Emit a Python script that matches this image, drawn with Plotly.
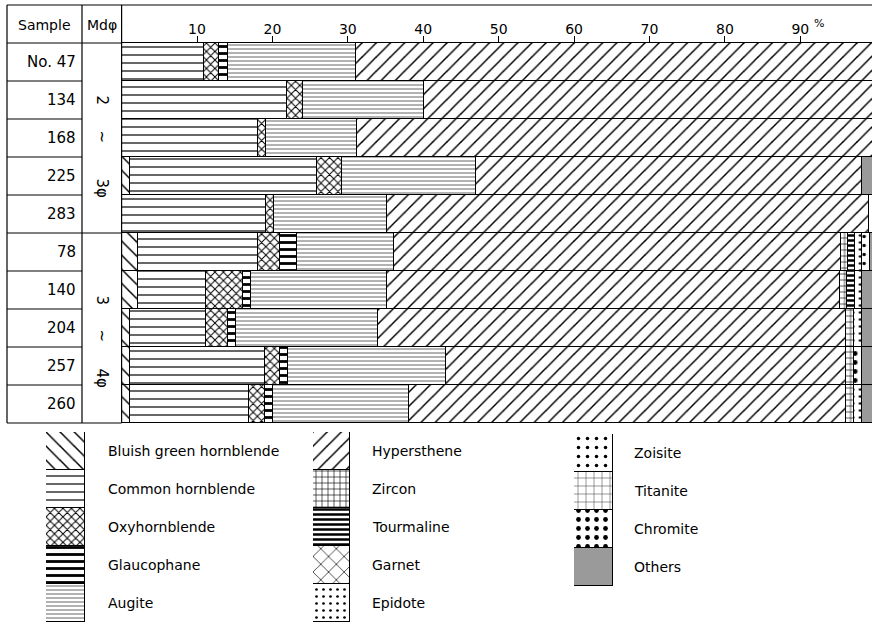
import plotly.graph_objects as go

# ---------------- data ----------------
samples = ["No. 47", "134", "168", "225", "283", "78", "140", "204", "257", "260"]
tick_vals = [10, 20, 30, 40, 50, 60, 70, 80, 90]
tick_text = ["10", "20", "30", "40", "50", "60", "70", "80", "90"]
groups = ["2", "~", "3φ"], ["3", "~", "4φ"]

bluish = [None, None, None, 1.0, None, 2.1, 2.1, 1.1, 1.1, 1.1]
common = [10.9, 21.9, 18.0, 24.9, 19.1, 15.9, 9.0, 10.0, 17.8, 15.8]
oxy = [2.0, 2.1, 1.1, 3.3, 1.0, 3.0, 5.0, 2.9, 2.1, 2.0]
glauc = [1.1, None, None, None, None, 2.2, 1.0, 1.1, 1.0, 1.1]
augite = [17.0, 16.0, 12.1, 17.8, 15.1, 12.9, 18.1, 18.9, 21.0, 18.1]
hyper = [69.0, 60.0, 68.8, 51.1, 63.8, 59.2, 60.0, 62.0, 53.0, 57.9]
zircon = [None, None, None, None, None, 0.9, 0.9, 1.1, 1.1, 1.1]
tourm = [None, None, None, None, None, 1.0, 1.1, None, None, None]
garnet = [None] * 10
epidote = [None, None, None, None, 1.0, 0.9, 0.9, 1.0, None, 1.0]
zoisite = [None, None, None, None, None, 1.1, None, None, None, None]
titanite = [None] * 10
chromite = [None, None, None, None, None, None, None, None, 1.0, None]
others = [None, None, None, 1.9, None, 0.8, 1.9, 1.9, 1.9, 1.9]

minerals = ["Bluish green hornblende", "Common hornblende", "Oxyhornblende", "Glaucophane",
            "Augite", "Hypersthene", "Zircon", "Tourmaline", "Garnet", "Epidote",
            "Zoisite", "Titanite", "Chromite", "Others"]
values = [bluish, common, oxy, glauc, augite, hyper, zircon, tourm, garnet, epidote,
          zoisite, titanite, chromite, others]
legend_cols = [minerals[0:5], minerals[5:10], minerals[10:14]]

# ---------------- styles ----------------
styles = {
    "Bluish green hornblende": dict(shape="\\", size=10, solidity=0.15),
    "Common hornblende": dict(shape="-", size=8, solidity=0.15),
    "Oxyhornblende": dict(shape="x", size=6, solidity=0.3),
    "Glaucophane": dict(shape="-", size=7, solidity=0.4),
    "Augite": dict(shape="-", size=4, solidity=0.3, fgopacity=0.5),
    "Hypersthene": dict(shape="/", size=10, solidity=0.15),
    "Zircon": dict(shape="+", size=6, solidity=0.2),
    "Tourmaline": dict(shape="-", size=5, solidity=0.5),
    "Garnet": dict(shape="x", size=11, solidity=0.12),
    "Epidote": dict(shape=".", size=7, solidity=0.12),
    "Zoisite": dict(shape=".", size=9, solidity=0.12),
    "Titanite": dict(shape="+", size=8, solidity=0.12, fgopacity=0.8),
    "Chromite": dict(shape=".", size=9, solidity=0.22),
    "Others": None,
}
FONT = "DejaVu Sans"
W, H = 872, 624


def px(x):
    return x / W


def py(y):
    return 1 - y / H


def marker_for(name):
    st = dict(styles[name]) if styles[name] else None
    if st is None:
        return dict(color="#9a9a9a", line=dict(color="black", width=1))
    op = st.pop("fgopacity", 1)
    return dict(color="white", line=dict(color="black", width=1),
                pattern=dict(fillmode="overlay", fgcolor="black", fgopacity=op,
                             bgcolor="white", **st))


fig = go.Figure()

# main stacked bars
for name, vals in zip(minerals, values):
    fig.add_trace(go.Bar(
        y=samples, x=vals, orientation="h", name=name,
        marker=marker_for(name), showlegend=False,
        xaxis="x", yaxis="y", hoverinfo="x+name",
    ))

# legend swatch columns (stacked vertical bars)
for i, col in enumerate(legend_cols):
    ax = str(i + 2)
    for name in col:
        fig.add_trace(go.Bar(
            x=[0], y=[1], name=name, marker=marker_for(name), showlegend=False,
            xaxis="x" + ax, yaxis="y" + ax, hoverinfo="name",
        ))

leg_geo = [  # x0, x1, y0, y1 (pixels), text x
    (46, 85, 432, 622, 106),
    (313, 350, 432, 622, 370),
    (574, 613, 434, 586, 632),
]
n_s = len(samples)

layout = dict(
    width=W, height=H, margin=dict(l=0, r=0, t=0, b=0),
    paper_bgcolor="white", plot_bgcolor="white",
    barmode="stack", bargap=0,
    font=dict(family=FONT, color="black"),
    xaxis=dict(domain=[px(121.6), 1], range=[0, 99.5], side="top",
               tickvals=tick_vals, ticktext=tick_text, ticks="outside",
               ticklen=6, tickcolor="black", tickwidth=1, ticklabelstandoff=-4,
               tickfont=dict(size=14, family=FONT), showgrid=False,
               zeroline=False, showline=True, linecolor="black", anchor="y"),
    yaxis=dict(domain=[py(423), py(43)], type="category", categoryorder="array",
               categoryarray=samples[::-1], range=[-0.5, n_s - 0.5],
               showticklabels=False, showgrid=False, zeroline=False, anchor="x",
               ticks=""),
)
for i, (x0, x1, y0, y1, tx) in enumerate(leg_geo):
    n = len(legend_cols[i])
    ax = str(i + 2)
    layout["xaxis" + ax] = dict(domain=[px(x0), px(x1)], range=[-0.5, 0.5], visible=False,
                                anchor="y" + ax)
    layout["yaxis" + ax] = dict(domain=[py(y1), py(y0)], range=[n, 0], visible=False,
                                anchor="x" + ax)
fig.update_layout(**layout)

# table lines
shapes = []


def line(x0, y0, x1, y1):
    shapes.append(dict(type="line", xref="paper", yref="paper",
                       x0=px(x0), y0=py(y0), x1=px(x1), y1=py(y1),
                       line=dict(color="black", width=1.2)))


top, hdr, bot = 5, 43, 423
line(7, top, W, top)
line(7, hdr, 121.6, hdr)
line(7, bot, 121.6, bot)
for xv in (7, 82, 121.6):
    line(xv, top, xv, bot)
row_h = (bot - hdr) / n_s
for k in range(1, n_s):
    line(7, hdr + k * row_h, 82, hdr + k * row_h)
line(82, hdr + 5 * row_h, 121.6, hdr + 5 * row_h)
fig.update_layout(shapes=shapes)


def note(text, x, y, size=14, xanchor="center", yref="paper", **kw):
    return dict(text=text, x=x, y=y, xref="paper", yref=yref, xanchor=xanchor,
                yanchor="middle", showarrow=False, font=dict(size=size, family=FONT), **kw)


ann = [note("Sample", px(44), py(25), size=14),
       note("Mdφ", px(101.5), py(25), size=14),
       note("%", px(812), py(24), size=11, xanchor="left")]
for i, s in enumerate(samples):
    ann.append(note(s, px(78), py(hdr + (i + 0.5) * row_h), size=15, xanchor="right"))
# rotated group labels in the Mdφ column (pieces spread along the column)
for parts, ycs in zip(groups, ((100, 137, 188), (300, 336, 378))):
    for p, yc in zip(parts, ycs):
        ann.append(note(p, px(101.5), py(yc), size=15, textangle=90))
for i, (x0, x1, y0, y1, tx) in enumerate(leg_geo):
    seg = (y1 - y0) / len(legend_cols[i])
    for j, name in enumerate(legend_cols[i]):
        ann.append(note(name, px(tx), py(y0 + (j + 0.5) * seg), xanchor="left"))
fig.update_layout(annotations=ann)

fig.write_html("out.html")
